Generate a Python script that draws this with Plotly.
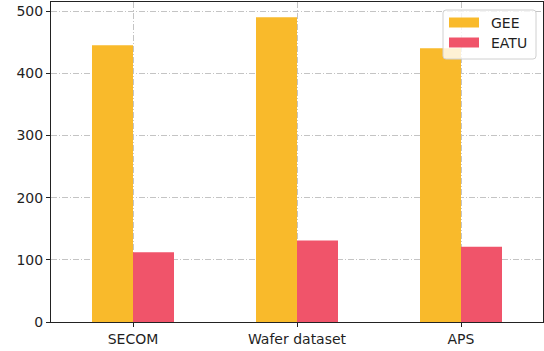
import plotly.graph_objects as go

# Data
datasets = ["SECOM", "Wafer dataset", "APS"]
series_names = ["GEE", "EATU"]
gee_values = [445, 490, 440]
eatu_values = [112, 131, 121]
series_colors = ["#F9BA2B", "#F0546A"]

W, H = 544, 351
margin = dict(l=51, r=1, t=2, b=29)
plot_w = W - margin["l"] - margin["r"]
plot_h = H - margin["t"] - margin["b"]

FONT = dict(family="DejaVu Sans", size=14, color="#1f1f1f")

fig = go.Figure()
for name, vals, col in zip(series_names, [gee_values, eatu_values], series_colors):
    fig.add_trace(go.Bar(
        x=datasets, y=vals, name=name,
        marker=dict(color=col, line=dict(width=0)),
        showlegend=False,
    ))

grid_kw = dict(
    showgrid=True, gridcolor="#c4c4c4", gridwidth=1, griddash="6px,2px,1px,2px",
    showline=True, linecolor="#222222", linewidth=1, mirror=True,
    ticks="outside", ticklen=4, tickcolor="#222222",
    tickfont=FONT,
    zeroline=False,
)

fig.update_xaxes(type="category", range=[-0.5, 2.5], **grid_kw)
fig.update_yaxes(range=[0, 514.5], tickvals=[0, 100, 200, 300, 400, 500], **grid_kw)


def px_to_paper(x, y):
    return (x - margin["l"]) / plot_w, (H - margin["b"] - y) / plot_h


# Legend frame (rounded, semi-transparent)
x0, y1 = px_to_paper(443, 10)
x1, y0 = px_to_paper(536, 59)
rx, ry = 3 / plot_w, 3 / plot_h
path = (f"M {x0+rx},{y0} L {x1-rx},{y0} Q {x1},{y0} {x1},{y0+ry} "
        f"L {x1},{y1-ry} Q {x1},{y1} {x1-rx},{y1} L {x0+rx},{y1} "
        f"Q {x0},{y1} {x0},{y1-ry} L {x0},{y0+ry} Q {x0},{y0} {x0+rx},{y0} Z")
fig.add_shape(type="path", path=path, xref="paper", yref="paper",
              fillcolor="rgba(255,255,255,0.8)", line=dict(color="#d0d0d0", width=1),
              layer="above")

for i, (name, col) in enumerate(zip(series_names, series_colors)):
    cy = 22.5 + i * 20
    px0, py_top = px_to_paper(449, cy - 5)
    px1, py_bot = px_to_paper(479, cy + 5)
    fig.add_shape(type="rect", xref="paper", yref="paper",
                  x0=px0, x1=px1, y0=py_bot, y1=py_top,
                  fillcolor=col, line=dict(width=0), layer="above")
    tx, ty = px_to_paper(489, cy)
    fig.add_annotation(x=tx, y=ty, xref="paper", yref="paper", text=name,
                       showarrow=False, xanchor="left", yanchor="middle",
                       font=FONT)

fig.update_layout(
    width=W, height=H, margin=margin,
    barmode="group", bargap=0.5, bargroupgap=0,
    plot_bgcolor="white", paper_bgcolor="white",
)

fig.write_html("out.html")
